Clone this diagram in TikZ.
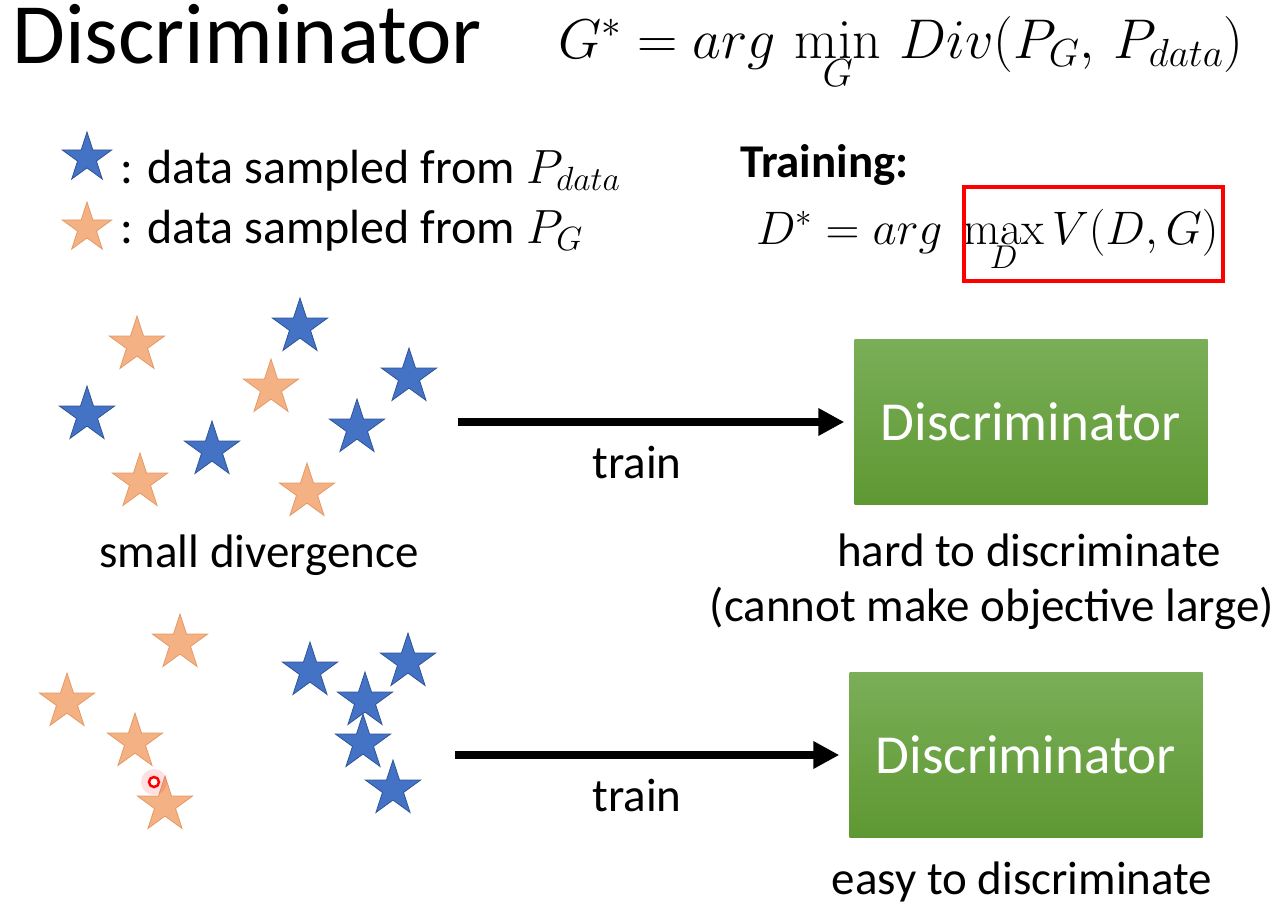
\RequirePackage{fix-cm}
\documentclass[tikz,border=0pt]{standalone}
\usepackage[no-math]{fontspec}
\setmainfont{Carlito}
\usetikzlibrary{shapes.geometric,arrows.meta,positioning}

\definecolor{starblue}{HTML}{4472C4}
\definecolor{starblueline}{HTML}{2F5597}
\definecolor{starorange}{HTML}{F4B183}
\definecolor{starorangeline}{HTML}{E59A66}
\definecolor{boxtop}{HTML}{7AAE58}
\definecolor{boxbottom}{HTML}{5E9832}

\tikzset{
  realstar/.style={star, star points=5, star point ratio=2.618, minimum size=58pt,
    inner sep=0pt, fill=starblue, draw=starblueline, line width=0.8pt},
  fakestar/.style={realstar, fill=starorange, draw=starorangeline},
  txt/.style={anchor=base, inner sep=0pt, font=\fontsize{47}{56}\selectfont},
  mathtxt/.style={anchor=base west, inner sep=0pt, font=\fontsize{47}{56}\selectfont},
  discbox/.style={minimum width=353pt, minimum height=165pt, inner sep=0pt,
    top color=boxtop, bottom color=boxbottom, text=white,
    font=\fontsize{55}{66}\selectfont},
  trainarrow/.style={line width=8pt, -{Triangle[length=26pt,width=26pt]}, shorten >=10pt}
}

\begin{document}
\begin{tikzpicture}[x=1pt, y=-1pt]
\useasboundingbox (0,0) rectangle (1286,910);
% Heading and objective
    \node[anchor=base west, inner sep=0pt, font=\fontsize{86}{96}\selectfont] (title) at (12,63) {Discriminator};
    \node[mathtxt, font=\fontsize{56}{66}\selectfont] (gobj) at (558,58)
        {$G^{*}=arg\,\min\limits_{G}\,Div(P_{G},\,P_{data})$};
% Legend
    \node[realstar, minimum size=52pt] (lreal) at (87,158) {};
    \node[fakestar, minimum size=52pt] (lfake) at (87,228) {};
    \node[txt, anchor=base west, font=\fontsize{48}{58}\selectfont] (lrealtxt) at (120,183) {: data sampled from $P_{data}$};
    \node[txt, anchor=base west, font=\fontsize{48}{58}\selectfont] (lfaketxt) at (120,243) {: data sampled from $P_{G}$};
% Training objective
    \node[txt, anchor=base west, font=\fontsize{47}{56}\selectfont\bfseries] (trn) at (740,177) {Training:};
    \node[mathtxt] (dobj) at (756,244) {$D^{*}=arg\;\max\limits_{D}V(D,G)$};
    \draw[red, line width=4pt] (964,187) rectangle (1223,281);
% Small divergence
    \foreach \x/\y [count=\i] in {300/327, 409/377, 87/415, 357/428, 212/450}
        \node[realstar] (sr\i) at (\x,\y) {};
    \foreach \x/\y [count=\i] in {137/345, 271/388, 140/482, 307/492}
        \node[fakestar] (sf\i) at (\x,\y) {};
    \node[txt] (small) at (259,567) {small divergence};
    \coordinate (a1) at (458,422);
    \node[discbox] (disc1) at (1031,422) {Discriminator};
    \draw[trainarrow] (a1) -- (disc1.west);
    \node[txt] (train1) at (637,478) {train};
    \node[txt] (hard) at (1029,566) {hard to discriminate};
    \node[txt] (hard2) at (992,621) {(cannot make objective large)};
% Large divergence
    \foreach \x/\y [count=\i] in {310/671, 408/662, 365/701, 363/743, 393/789}
        \node[realstar] (lr\i) at (\x,\y) {};
    \foreach \x/\y [count=\i] in {180/643, 67/702, 135/742, 165/805}
        \node[fakestar] (lf\i) at (\x,\y) {};
    \fill[red, opacity=0.12] (154,782) circle (13);
    \node[circle, draw=red, fill=white, line width=2.5pt, minimum size=10pt, inner sep=0pt] (dot) at (154,782) {};
    \coordinate (a2) at (455,755);
    \node[discbox] (disc2) at (1026,755) {Discriminator};
    \draw[trainarrow] (a2) -- (disc2.west);
    \node[txt] (train2) at (637,811) {train};
    \node[txt] (easy) at (1022,894) {easy to discriminate};
\end{tikzpicture}
\end{document}
